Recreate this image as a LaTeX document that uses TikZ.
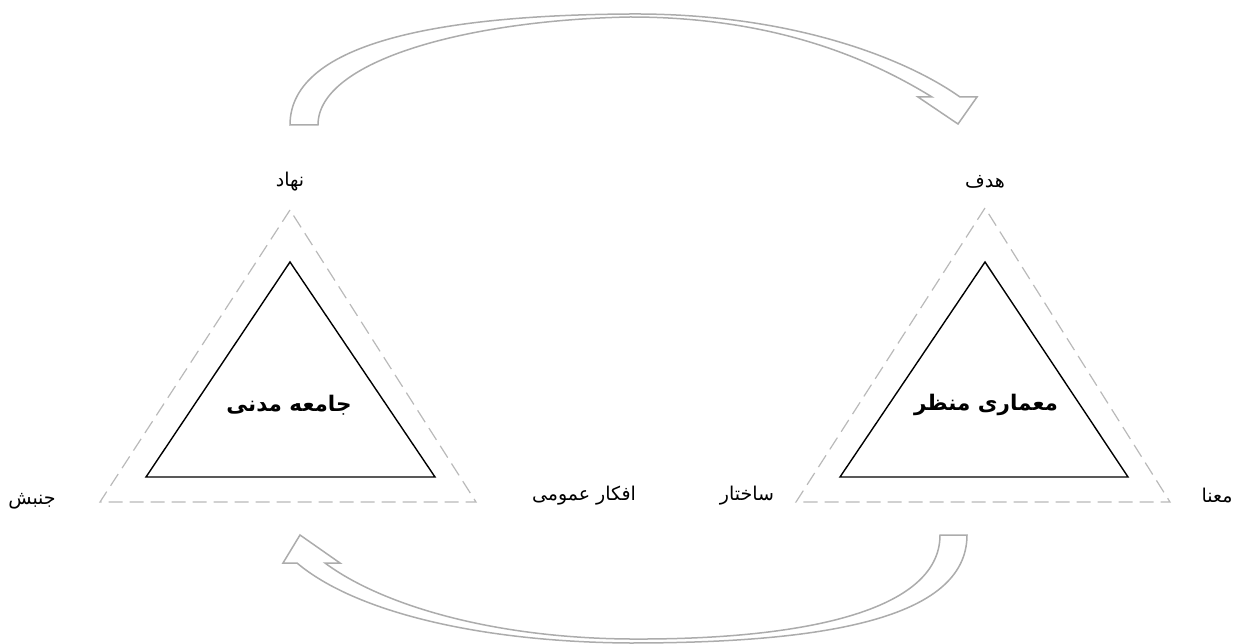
\documentclass[tikz,border=0pt]{standalone}
\usepackage{fontspec}
\newfontfamily\arabicfont[Script=Arabic]{DejaVu Sans}
\TeXXeTstate=1
\begin{document}
\begin{tikzpicture}[x=1pt,y=-1pt,
  lbl/.style={font=\arabicfont\fontsize{19}{21}\selectfont, inner sep=0pt},
  ttl/.style={font=\arabicfont\bfseries\fontsize{21.5}{24}\selectfont, inner sep=0pt},
  innertri/.style={draw=black, line width=1.4pt, line join=miter},
  outertri/.style={draw=gray!55, line width=1.2pt, dash pattern=on 14pt off 7pt},
  blockarrow/.style={draw=gray!65, line width=1.5pt, fill=white, line join=miter}]
\useasboundingbox (0,0) rectangle (1237,644);
% left triangles
\coordinate (LA) at (290,262); \coordinate (LB) at (146,477); \coordinate (LC) at (435,477);
\coordinate (LoA) at (290,210); \coordinate (LoB) at (100,502); \coordinate (LoC) at (476,502);
% right triangles
\coordinate (RA) at (985,262); \coordinate (RB) at (840,477); \coordinate (RC) at (1128,477);
\coordinate (RoA) at (985,208); \coordinate (RoB) at (796,502); \coordinate (RoC) at (1170,502);
\draw[outertri] (LoA) -- (LoB) -- (LoC) -- cycle;
\draw[innertri] (LA) -- (LB) -- (LC) -- cycle;
\draw[outertri] (RoA) -- (RoB) -- (RoC) -- cycle;
\draw[innertri] (RA) -- (RB) -- (RC) -- cycle;
% labels
\node[lbl] (nahad) at (290,182) {\beginR نهاد\endR};
\node[lbl] (jonbesh) at (32,501) {\beginR جنبش\endR};
\node[lbl] (afkar) at (584,496) {\beginR افکار عمومی\endR};
\node[lbl] (hadaf) at (985,182) {\beginR هدف\endR};
\node[lbl] (sakhtar) at (747,496) {\beginR ساختار\endR};
\node[lbl] (mana) at (1217,496) {\beginR معنا\endR};
\node[ttl] (jameh) at (289,405) {\beginR جامعه مدنی\endR};
\node[ttl] (memari) at (986,405) {\beginR معماری منظر\endR};
% top block arrow
\coordinate (T1) at (290,125); \coordinate (T2) at (318,125);
\coordinate (TI) at (932,97); \coordinate (TO) at (960,97);
\coordinate (TL) at (918,97); \coordinate (TR) at (977,97); \coordinate (TT) at (958,124);
\coordinate (TP) at (630,14); \coordinate (TQ) at (630,17);
\draw[blockarrow] (T1) .. controls (290,40) and (450,15) .. (TP)
  .. controls (790,13) and (905,58) .. (TO) -- (TR) -- (TT) -- (TL) -- (TI)
  .. controls (875,62) and (780,17) .. (TQ)
  .. controls (470,20) and (318,60) .. (T2) -- cycle;
% bottom block arrow
\coordinate (B1) at (967,535); \coordinate (B2) at (940,535);
\coordinate (BO) at (297,563); \coordinate (BI) at (325,563);
\coordinate (BL) at (283,563); \coordinate (BR) at (340,563); \coordinate (BT) at (300,535);
\coordinate (BP) at (630,643); \coordinate (BQ) at (630,639);
\draw[blockarrow] (B1) .. controls (967,620) and (820,643) .. (BP)
  .. controls (480,642) and (355,612) .. (BO) -- (BL) -- (BT) -- (BR) -- (BI)
  .. controls (380,604) and (490,638) .. (BQ)
  .. controls (800,640) and (940,612) .. (B2) -- cycle;
\end{tikzpicture}
\end{document}
